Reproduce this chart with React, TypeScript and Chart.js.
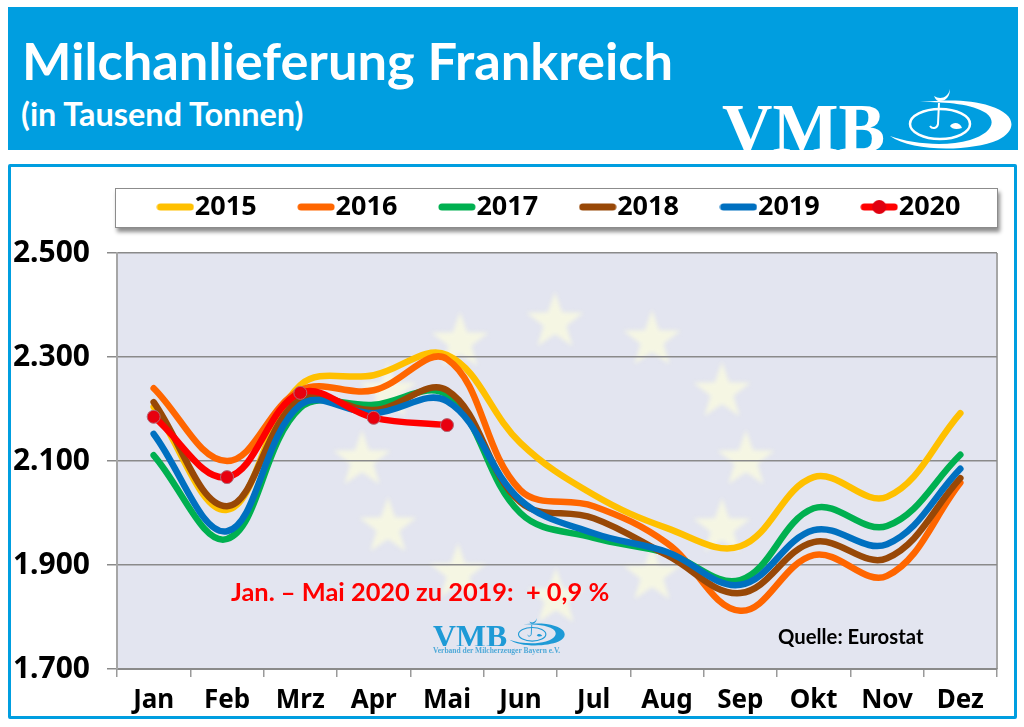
import React, { useEffect, useRef } from "react";
import Chart from "chart.js/auto";

const MONTHS = ["Jan", "Feb", "Mrz", "Apr", "Mai", "Jun", "Jul", "Aug", "Sep", "Okt", "Nov", "Dez"];
const Y2015 = [2204, 2006, 2246, 2265, 2304, 2135, 2035, 1971, 1936, 2069, 2031, 2192];
const Y2016 = [2240, 2100, 2236, 2236, 2296, 2044, 2013, 1942, 1812, 1919, 1879, 2058];
const Y2017 = [2111, 1950, 2202, 2208, 2227, 2000, 1952, 1923, 1871, 2009, 1975, 2112];
const Y2018 = [2213, 2013, 2220, 2198, 2236, 2021, 1990, 1919, 1846, 1944, 1913, 2067];
const Y2019 = [2152, 1965, 2208, 2192, 2215, 2025, 1961, 1925, 1862, 1967, 1940, 2085];
const Y2020 = [2185, 2069, 2231, 2183, 2169];

const SERIES = [
  { label: "2015", data: Y2015, color: "#FFC000" },
  { label: "2016", data: Y2016, color: "#FF6600" },
  { label: "2017", data: Y2017, color: "#00B050" },
  { label: "2018", data: Y2018, color: "#984807" },
  { label: "2019", data: Y2019, color: "#0070C0" },
  { label: "2020", data: Y2020, color: "#FF0000" },
];

const BLUE = "#009EE0";

// EU flag stars behind the plot, page coordinates minus canvas offset
const CANVAS_TOP = 140;
const STARS = [
  [460, 342], [555, 322], [652, 340], [722, 392], [746, 460], [722, 528],
  [652, 575], [556, 598], [458, 573], [388, 527], [362, 460], [388, 392],
];

const drawStar = (ctx: CanvasRenderingContext2D, cx: number, cy: number, r: number) => {
  ctx.beginPath();
  for (let i = 0; i < 10; i++) {
    const rad = i % 2 === 0 ? r : r * 0.4;
    const a = -Math.PI / 2 + (i * Math.PI) / 5;
    ctx.lineTo(cx + rad * Math.cos(a), cy + rad * Math.sin(a));
  }
  ctx.closePath();
  ctx.fill();
};

const backgroundPlugin = {
  id: "plotBackground",
  beforeLayout: (chart: any) => {
    // legend takes the whole band above the plot
    const legend = chart.legend;
    if (legend && !legend.bandFit) {
      const fit = legend.fit;
      legend.fit = function (this: any) {
        fit.call(this);
        this.height = 113;
      };
      legend.bandFit = true;
    }
  },
  beforeDraw: (chart: any) => {
    const { ctx, chartArea: a } = chart;
    ctx.save();
    ctx.fillStyle = "#E3E5F0";
    ctx.fillRect(a.left, a.top, a.right - a.left, a.bottom - a.top);
    ctx.filter = "blur(2px)";
    ctx.fillStyle = "#F5F6E3";
    STARS.forEach(([x, y]) => drawStar(ctx, x, y - CANVAS_TOP, 30));
    ctx.filter = "none";
    ctx.strokeStyle = "#A6A6A6";
    ctx.lineWidth = 2;
    ctx.beginPath();
    ctx.moveTo(a.right, a.top);
    ctx.lineTo(a.right, a.bottom);
    ctx.stroke();
    ctx.restore();
    // legend sits inside the framed box, a little right of its default spot
    if (chart.legend) {
      chart.legend.left = 17;
      chart.legend.right = 1014;
    }
  },
};

const legendSwatch = (color: string, withDot: boolean) => {
  const c = document.createElement("canvas");
  c.width = 38;
  c.height = 16;
  const g = c.getContext("2d");
  if (g) {
    g.strokeStyle = color;
    g.lineWidth = 7;
    g.lineCap = "round";
    g.beginPath();
    g.moveTo(4, 8);
    g.lineTo(34, 8);
    g.stroke();
    if (withDot) {
      g.fillStyle = "#E0000F";
      g.beginPath();
      g.arc(19, 8, 7, 0, Math.PI * 2);
      g.fill();
    }
  }
  return c;
};

const Logo = ({ color }: { color: string }) => (
  <svg width="292" height="64" viewBox="0 0 292 64" style={{ display: "block", overflow: "hidden" }}>
    <text x="0" y="66" fontFamily="'Liberation Serif'" fontWeight="bold" fontSize="70" fill={color} textLength="163" lengthAdjust="spacingAndGlyphs">
      VMB
    </text>
    <path
      d="M168 50 C190 66 248 66 276 54 C296 44 294 28 268 20 C248 13 222 14 198 16 C226 16 250 18 264 27 C276 36 268 48 248 54 C224 61 190 58 168 50 Z"
      fill={color}
    />
    <ellipse cx="218" cy="38" rx="30" ry="15" fill="none" stroke={color} strokeWidth="2.5" />
    <path d="M212 10 C218 14 226 12 228 3 C228 10 224 16 216 15 C214 14 213 12 212 10 Z" fill={color} />
    <path d="M217 17 L216 38 C215 43 210 43 208 40" fill="none" stroke={color} strokeWidth="2" />
    <path d="M228 40 C232 35 238 37 240 42 C234 44 230 43 228 40 Z" fill={color} />
  </svg>
);

const App: React.FC = () => {
  const chartRef = useRef<HTMLCanvasElement | null>(null);

  useEffect(() => {
    const canvas = chartRef.current;
    if (!canvas) return;

    const chart = new Chart(canvas, {
      type: "line",
      data: {
        labels: MONTHS,
        datasets: SERIES.map((s, i) => ({
          label: s.label,
          data: s.data,
          borderColor: s.color,
          backgroundColor: s.color,
          borderWidth: 6.5,
          borderCapStyle: "round",
          borderJoinStyle: "round",
          tension: 0.38,
          fill: false,
          order: SERIES.length - i,
          pointRadius: s.label === "2020" ? 6.5 : 0,
          pointBackgroundColor: "#E8000F",
          pointBorderColor: "#B06A78",
          pointBorderWidth: 1,
        })),
      } as any,
      options: {
        responsive: false,
        animation: false,
        layout: { padding: { right: 21 } },
        plugins: {
          title: { display: false },
          tooltip: { enabled: false },
          legend: {
            display: true,
            position: "top",
            align: "end",
            labels: {
              usePointStyle: true,
              pointStyleWidth: 12,
              boxHeight: 16,
              padding: 53.5,
              color: "#000000",
              font: { family: "'Noto Sans'", size: 27, weight: "bold" },
              generateLabels: (c: any) =>
                c.data.datasets.map((d: any, i: number) => ({
                  text: d.label,
                  datasetIndex: i,
                  fontColor: "#000000",
                  lineWidth: 0,
                  pointStyle: legendSwatch(d.borderColor, d.label === "2020"),
                })),
            },
          },
        },
        scales: {
          x: {
            offset: true,
            afterFit: (s: any) => {
              s.height = 58;
            },
            grid: { offset: true, drawOnChartArea: false, tickLength: 8, color: "#9A9A9A", lineWidth: 1.5 },
            border: { color: "#8A8A8A", width: 2 },
            ticks: {
              color: "#000000",
              padding: 8,
              maxRotation: 0,
              autoSkip: false,
              font: { family: "'Noto Sans'", size: 26, weight: "bold" },
            },
          },
          y: {
            min: 1700,
            max: 2500,
            afterFit: (s: any) => {
              s.width = 117;
            },
            grid: { tickLength: 10, color: "#8A8A8A", lineWidth: 1.5 },
            border: { color: "#A6A6A6", width: 2 },
            ticks: {
              stepSize: 200,
              color: "#000000",
              padding: 17,
              font: { family: "'Noto Sans'", size: 30, weight: "bold" },
              callback: (v: any) => Number(v).toLocaleString("de-DE"),
            },
          },
        },
      } as any,
      plugins: [backgroundPlugin],
    });

    return () => chart.destroy();
  }, []);

  return (
    <div style={{ position: "absolute", left: 0, top: 0, width: 1024, height: 727, background: "#fff", overflow: "hidden" }}>
      <div style={{ position: "absolute", left: 8, top: 7, width: 1010, height: 143, background: BLUE, overflow: "hidden" }}>
        <div style={{ position: "absolute", left: 14, top: 21, color: "#fff", font: "bold 52.4px Lato", whiteSpace: "nowrap" }}>
          Milchanlieferung Frankreich
        </div>
        <div style={{ position: "absolute", left: 13, top: 87, color: "#fff", font: "bold 32.4px Lato", whiteSpace: "nowrap" }}>
          (in Tausend Tonnen)
        </div>
        <div style={{ position: "absolute", left: 714, top: 79 }}>
          <Logo color="#fff" />
        </div>
      </div>

      <div style={{ position: "absolute", left: 8, top: 164, width: 1003, height: 549, border: `3px solid ${BLUE}`, borderRadius: 2 }} />

      <div
        style={{
          position: "absolute",
          left: 115,
          top: 188,
          width: 881,
          height: 38,
          background: "#fff",
          border: "1px solid #8C8C8C",
          boxShadow: "2px 4px 4px rgba(0,0,0,0.45)",
        }}
      />

      <canvas ref={chartRef} width={1018} height={587} style={{ position: "absolute", left: 0, top: CANVAS_TOP }} />

      <div style={{ position: "absolute", left: 231, top: 576, color: "#FF0000", font: "bold 25.4px Lato", whiteSpace: "pre" }}>
        {"Jan. – Mai 2020 zu 2019:  + 0,9 %"}
      </div>
      <div style={{ position: "absolute", left: 778, top: 624, color: "#000", font: "bold 20.3px Lato", whiteSpace: "nowrap" }}>
        Quelle: Eurostat
      </div>

      <div style={{ position: "absolute", left: 433, top: 617, width: 133, height: 30, overflow: "hidden" }}>
        <div style={{ transform: "scale(0.455)", transformOrigin: "0 0" }}>
          <Logo color="#1E9AD6" />
        </div>
      </div>
      <div style={{ position: "absolute", left: 433, top: 646, color: "#4FA9D8", font: "bold 7.5px 'Liberation Serif'", whiteSpace: "nowrap" }}>
        Verband der Milcherzeuger Bayern e.V.
      </div>
    </div>
  );
};

export default App;
